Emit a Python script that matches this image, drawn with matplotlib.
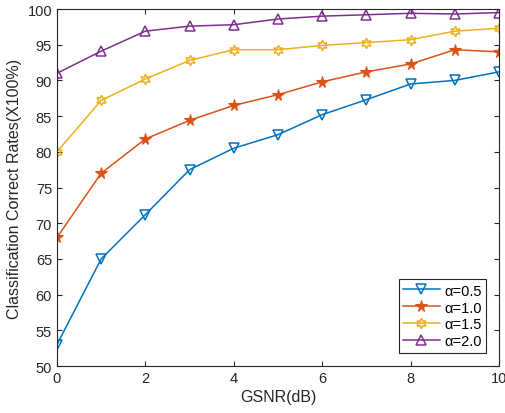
import numpy as np
import matplotlib.pyplot as plt

plt.rcParams['font.family'] = ['Liberation Sans', 'DejaVu Sans']

# Data ----------------------------------------------------------------
gsnr = [0, 1, 2, 3, 4, 5, 6, 7, 8, 9, 10]
acc_05 = [53.0, 65.0, 71.2, 77.5, 80.5, 82.4, 85.2, 87.3, 89.5, 90.0, 91.2]
acc_10 = [68.0, 77.0, 81.8, 84.4, 86.5, 88.0, 89.8, 91.2, 92.3, 94.3, 94.0]
acc_15 = [80.0, 87.2, 90.2, 92.8, 94.3, 94.3, 94.9, 95.3, 95.7, 96.9, 97.3]
acc_20 = [91.0, 94.1, 96.9, 97.6, 97.8, 98.6, 99.0, 99.2, 99.4, 99.3, 99.5]
labels = ['\u03b1=0.5', '\u03b1=1.0', '\u03b1=1.5', '\u03b1=2.0']

# MATLAB default colours
colors = ['#0072BD', '#D95319', '#EDB120', '#7E2F8E']

fig = plt.figure(figsize=(5.06, 4.14), dpi=100)
ax = fig.add_axes([0.1126, 0.1135, 0.8735, 0.8623])

ax.plot(gsnr, acc_05, color=colors[0], marker='v', ms=7, mfc='none', mew=1.1, lw=1.1, label=labels[0])
ax.plot(gsnr, acc_10, color=colors[1], marker='*', ms=8.5, mfc=colors[1], mew=0.8, lw=1.1, label=labels[1])
ax.plot(gsnr, acc_15, color=colors[2], marker=(6, 1, 0), ms=7.5, mfc='none', mew=1.1, lw=1.1, label=labels[2])
ax.plot(gsnr, acc_20, color=colors[3], marker='^', ms=7, mfc='none', mew=1.1, lw=1.1, label=labels[3])

ax.set_xlim(0, 10)
ax.set_ylim(50, 100)
ax.set_xticks(np.arange(0, 11, 2))
ax.set_yticks(np.arange(50, 101, 5))
ax.tick_params(direction='in', top=True, right=True, labelsize=10.5, colors='#262626', length=3.5)
for s in ax.spines.values():
    s.set_color('#262626')
    s.set_linewidth(0.8)

ax.set_xlabel('GSNR(dB)', fontsize=11.5, color='#262626', labelpad=3)
ax.set_ylabel('Classification Correct Rates(X100%)', fontsize=11.5, color='#262626')

leg = ax.legend(loc='lower right', bbox_to_anchor=(0.98, 0.025), fontsize=10.5, fancybox=False,
                edgecolor='#262626', framealpha=1, borderpad=0.3, labelspacing=0.2,
                handlelength=2.5, handletextpad=0.3, borderaxespad=0.3)
leg.get_frame().set_linewidth(0.8)

fig.savefig('out.png', dpi=100)
